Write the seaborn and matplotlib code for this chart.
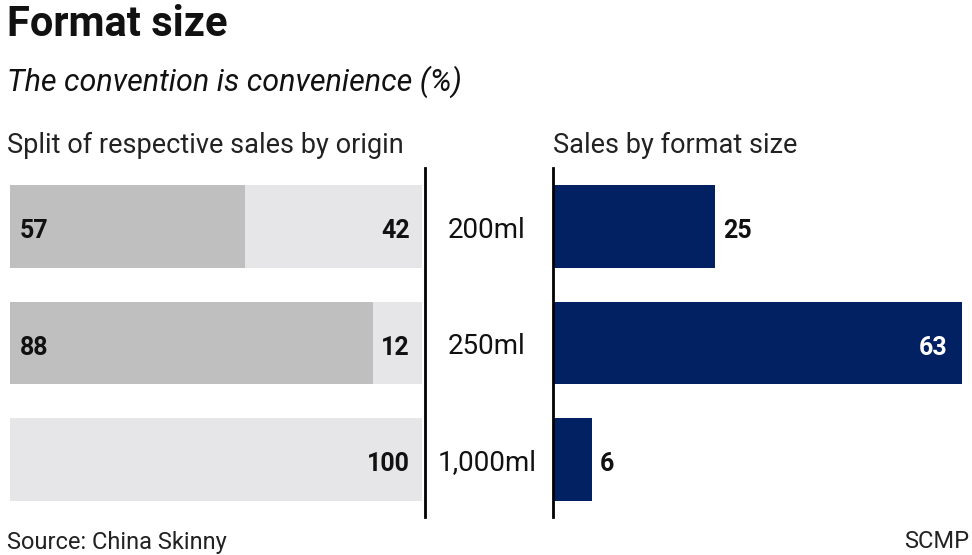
import matplotlib
matplotlib.use("Agg")
import matplotlib.pyplot as plt
import seaborn as sns
import pandas as pd

sns.set_theme(style="white")
plt.rcParams['font.family'] = ['Roboto', 'DejaVu Sans']

categories = ["200ml", "250ml", "1,000ml"]
origin_first = [57, 88, 0]
origin_second = [42, 12, 100]
origin_total = [100, 100, 100]
format_sales = [25, 63, 6]

DARK_GREY = "#bfbfbf"
LIGHT_GREY = "#e6e6e8"
NAVY = "#022163"

W, H = 972, 555
fig = plt.figure(figsize=(W / 100, H / 100), dpi=100)

def fx(px):
    return px / W

def fy(py):
    return 1 - py / H

ax_bottom = fy(517)
ax_h = fy(168) - fy(517)

df = pd.DataFrame({"cat": categories, "first": origin_first,
                   "second": origin_second, "total": origin_total,
                   "sales": format_sales})

bar_kw = dict(orient="h", width=0.71, saturation=1, linewidth=0,
              edgecolor="none")

# small downward nudge of value labels (data units, y axis inverted)
LBL_DY = 0.04

# Left panel
axl = fig.add_axes([fx(10), ax_bottom, fx(425) - fx(10), ax_h])
sns.barplot(data=df, y="cat", x="total", color=LIGHT_GREY, ax=axl, **bar_kw)
sns.barplot(data=df, y="cat", x="first", color=DARK_GREY, ax=axl, **bar_kw)
axl.set_xlim(0, 100 * 415 / 412)
axl.set_ylim(2.494, -0.502)
for s in ["top", "left", "bottom"]:
    axl.spines[s].set_visible(False)
axl.spines["right"].set_color("black")
axl.spines["right"].set_linewidth(2)
axl.set_xticks([])
axl.set_yticks([])
axl.set_xlabel("")
axl.set_ylabel("")
for i, (a, b) in enumerate(zip(origin_first, origin_second)):
    if a > 0:
        axl.text(2.3, i + LBL_DY, f"{a}", ha="left", va="center", fontsize=18,
                 fontweight="bold", color="#111111")
    axl.text(97, i + LBL_DY, f"{b}", ha="right", va="center", fontsize=18,
             fontweight="bold", color="#111111")

# Category labels in the middle
for i, c in enumerate(categories):
    ypix = 230 + i * 116.5
    fig.text(fx(487), fy(ypix), c, ha="center", va="center", fontsize=20,
             color="#111111")

# Right panel
axr = fig.add_axes([fx(553), ax_bottom, fx(972) - fx(553), ax_h])
sns.barplot(data=df, y="cat", x="sales", color=NAVY, ax=axr, **bar_kw)
axr.set_xlim(0, 419 / 6.49)
axr.set_ylim(2.494, -0.502)
for s in ["top", "right", "bottom"]:
    axr.spines[s].set_visible(False)
axr.spines["left"].set_color("black")
axr.spines["left"].set_linewidth(2)
axr.set_xticks([])
axr.set_yticks([])
axr.set_xlabel("")
axr.set_ylabel("")
for i, v in enumerate(format_sales):
    if v > 40:
        axr.text(v - 2.2, i + LBL_DY, f"{v}", ha="right", va="center",
                 fontsize=18, fontweight="bold", color="white")
    else:
        axr.text(v + 1.2, i + LBL_DY, f"{v}", ha="left", va="center",
                 fontsize=18, fontweight="bold", color="#111111")

# Titles
fig.text(fx(7), fy(25), "Format size", ha="left", va="center",
         fontsize=30, fontweight="bold", color="#111111")
fig.text(fx(7), fy(82), "The convention is convenience (%)", ha="left",
         va="center", fontsize=22, style="italic", color="#111111")
fig.text(fx(7), fy(145), "Split of respective sales by origin", ha="left",
         va="center", fontsize=19.5, color="#222222")
fig.text(fx(553), fy(145), "Sales by format size", ha="left",
         va="center", fontsize=19.5, color="#222222")
fig.text(fx(7), fy(542), "Source: China Skinny", ha="left", va="center",
         fontsize=17, color="#222222")
fig.text(fx(969), fy(542), "SCMP", ha="right", va="center",
         fontsize=17, color="#222222")

fig.savefig("out.png", dpi=100, facecolor="white")
